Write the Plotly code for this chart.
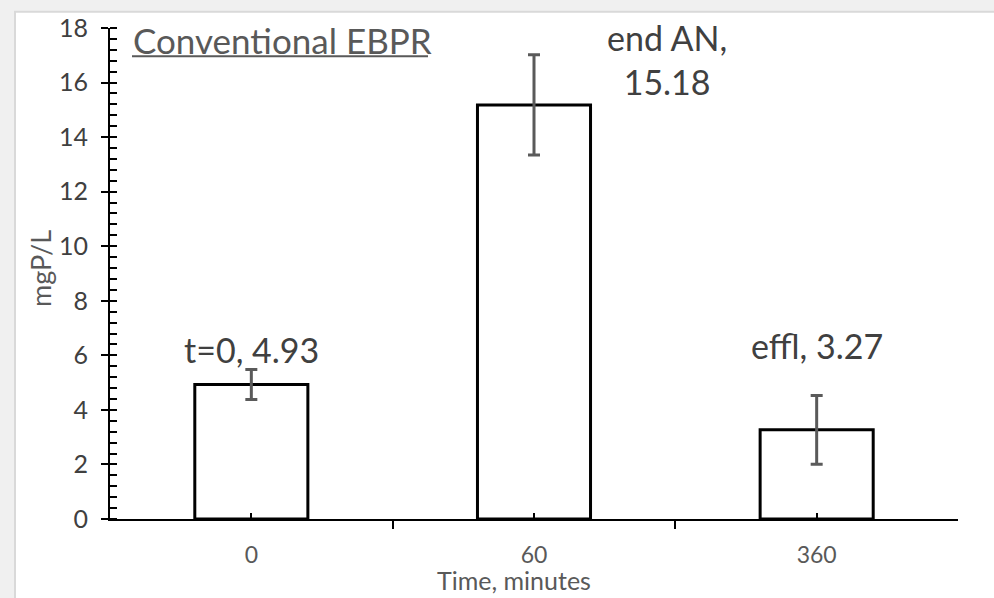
import plotly.graph_objects as go

# ---- data ----
categories = ["0", "60", "360"]
values = [4.93, 15.18, 3.27]
errors = [0.55, 1.84, 1.26]
label_names = ["t=0", "end AN", "effl"]
y_ticks = [0, 2, 4, 6, 8, 10, 12, 14, 16, 18]
x_title = "Time, minutes"
y_title = "mgP/L"
panel_title = "Conventional EBPR"

FONT = "Lato"
x_pos = list(range(len(categories)))

fig = go.Figure()
fig.add_trace(go.Bar(
    x=x_pos, y=values, width=0.4,
    marker=dict(color="white", line=dict(color="black", width=3)),
    error_y=dict(type="data", array=errors, visible=True,
                 color="#5a5a5a", thickness=3, width=6),
    showlegend=False, hoverinfo="skip",
))
# invisible trace to anchor overlay axes (for crossing ticks)
fig.add_trace(go.Scatter(x=[x_pos[0]], y=[0], xaxis="x2", yaxis="y2",
                         mode="markers", marker=dict(opacity=0),
                         showlegend=False, hoverinfo="skip"))

L, R, T, B = 110, 36, 24, 79
W, H = 994, 598
pw, ph = W - L - R, H - T - B

def px_x(p):
    return (p - L) / pw

def px_y(p):
    return (H - B - p) / ph

# background card
fig.add_shape(type="rect", xref="paper", yref="paper",
              x0=px_x(15), x1=px_x(1010), y0=px_y(610), y1=px_y(7.5),
              fillcolor="white", line=dict(color="#d9d9d9", width=2),
              layer="below")

# data labels
label_pos = [(0.0, 6.2, False), (1.47, 16.85, True), (2.0, 6.35, False)]
for name, v, (lx, ly, br) in zip(label_names, values, label_pos):
    txt = f"{name},<br>{v:.2f}" if br else f"{name}, {v:.2f}"
    fig.add_annotation(x=lx, y=ly, xref="x", yref="y", text=txt,
                       showarrow=False, xanchor="center", yanchor="middle",
                       font=dict(family=FONT, size=34, color="#404040"))

# panel title with underline
fig.add_annotation(x=px_x(131), y=px_y(36), xref="paper", yref="paper",
                   text=panel_title, showarrow=False,
                   xanchor="left", yanchor="middle",
                   font=dict(family=FONT, size=35, color="#595959"))
fig.add_shape(type="line", xref="paper", yref="paper",
              x0=px_x(132), x1=px_x(428), y0=px_y(52.5), y1=px_y(52.5),
              line=dict(color="#595959", width=2))

# axis titles
fig.add_annotation(x=px_x(514), y=px_y(580), xref="paper", yref="paper",
                   text=x_title, showarrow=False, xanchor="center",
                   yanchor="middle",
                   font=dict(family=FONT, size=25, color="#595959"))
fig.add_annotation(x=px_x(40), y=px_y(267), xref="paper", yref="paper",
                   text=y_title, showarrow=False, textangle=-90,
                   xanchor="center", yanchor="middle",
                   font=dict(family=FONT, size=27, color="#595959"))

fig.update_layout(
    width=W, height=H,
    margin=dict(l=L, r=R, t=T, b=B),
    paper_bgcolor="#f0f0f0",
    plot_bgcolor="rgba(0,0,0,0)",
    bargap=0.6,
    xaxis=dict(
        range=[-0.5, 2.5], tickmode="array", tickvals=x_pos, ticktext=categories,
        showline=True, linecolor="black", linewidth=2,
        ticks="inside", ticklen=6, tickwidth=2, tickcolor="black",
        minor=dict(tickmode="array", tickvals=[-0.5, 0.5, 1.5, 2.5],
                   ticks="outside", ticklen=8, tickwidth=2, tickcolor="black"),
        tickfont=dict(family=FONT, size=23, color="#595959"),
        ticklabelstandoff=14,
        showgrid=False, zeroline=False,
    ),
    yaxis=dict(
        range=[0, 18], tickmode="array", tickvals=y_ticks,
        showline=True, linecolor="black", linewidth=2,
        ticks="outside", ticklen=7, tickwidth=2, tickcolor="black",
        minor=dict(dtick=0.4, tick0=0, ticks="inside", ticklen=7,
                   tickwidth=2, tickcolor="black"),
        tickfont=dict(family=FONT, size=25, color="#404040"),
        ticklabelstandoff=8,
        showgrid=False, zeroline=False,
    ),
    xaxis2=dict(overlaying="x", anchor="y", range=[-0.5, 2.5],
                tickmode="array", tickvals=[2.5], ticks="inside", ticklen=7,
                tickwidth=2, tickcolor="black", showticklabels=False,
                showgrid=False, zeroline=False, showline=False),
    yaxis2=dict(overlaying="y", anchor="x", range=[0, 18],
                tickmode="array", tickvals=y_ticks, ticks="inside", ticklen=7,
                tickwidth=2, tickcolor="black", showticklabels=False,
                showgrid=False, zeroline=False, showline=False),
)

fig.write_html("out.html")
